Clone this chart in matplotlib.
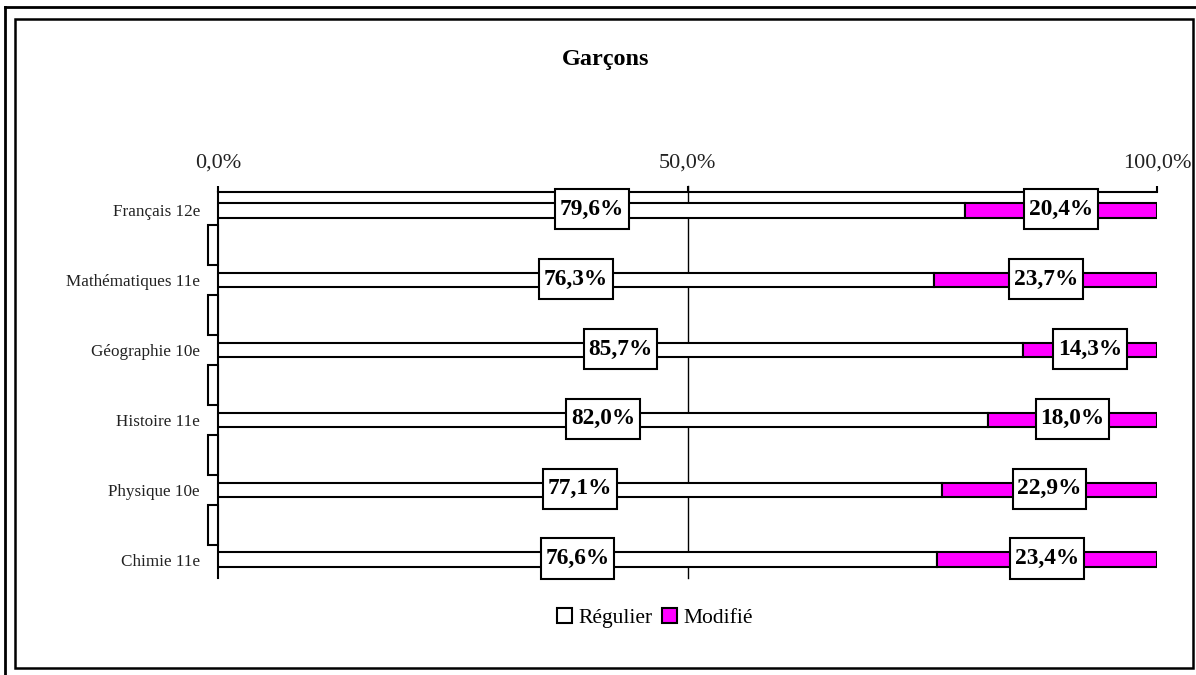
import matplotlib
matplotlib.use("Agg")
import matplotlib.pyplot as plt
from matplotlib.patches import Rectangle, Patch
from matplotlib.lines import Line2D
from matplotlib.path import Path
import matplotlib.transforms as mtransforms

categories = ["Français 12e", "Mathématiques 11e", "Géographie 10e",
              "Histoire 11e", "Physique 10e", "Chimie 11e"]
regulier = [79.6, 76.3, 85.7, 82.0, 77.1, 76.6]
modifie = [20.4, 23.7, 14.3, 18.0, 22.9, 23.4]
series_names = ["Régulier", "Modifié"]
xtick_vals = [0, 50, 100]
xtick_labels = ["0,0%", "50,0%", "100,0%"]
title = "Garçons"

plt.rcParams['font.family'] = ['Liberation Serif', 'DejaVu Serif']

W, H = 1196, 675
fig = plt.figure(figsize=(W / 100, H / 100), dpi=100)

def fx(px):
    return px / W

def fy(py):
    return 1 - py / H

# frames
fig.add_artist(Line2D([fx(5), 1.0], [fy(7), fy(7)], color='black', lw=2.0))
fig.add_artist(Line2D([fx(5), fx(5)], [fy(7), 0.0], color='black', lw=2.0))
fig.add_artist(Rectangle((fx(15), fy(668)), fx(1193) - fx(15), fy(19) - fy(668),
                         fill=False, edgecolor='black', lw=1.8))

ax = fig.add_axes([fx(218), fy(578), fx(1157) - fx(218), fy(192) - fy(578)])
ax.set_xlim(0, 100)
ax.set_ylim(5.26, -0.26)

ypos = list(range(len(categories)))
bh = 0.21
ax.barh(ypos, regulier, height=bh, color='white', edgecolor='black', lw=1.5, zorder=3)
ax.barh(ypos, modifie, left=regulier, height=bh, color='#FF00FF', edgecolor='black', lw=1.5, zorder=3)

ax.axvline(50, ymin=0, ymax=1.016, color='black', lw=1.0, zorder=2, clip_on=False)


def label_box(x0, y0, width, height, mutation_size):
    px = 0.2 * mutation_size
    py = 0.42 * mutation_size
    x0, y0 = x0 - px, y0 - py
    x1, y1 = x0 + width + 2 * px, y0 + height + 2 * py
    return Path([(x0, y0), (x1, y0), (x1, y1), (x0, y1), (x0, y0)], closed=True)


for i in ypos:
    r = regulier[i]
    m = modifie[i]
    for xc, v in ((r / 2, r), (r + m / 2, m)):
        ax.text(xc, i - 0.015, f"{v:.1f}%".replace('.', ','), ha='center', va='center',
                fontsize=16.8, fontweight='bold', zorder=5,
                bbox=dict(boxstyle=label_box, facecolor='white',
                          edgecolor='black', lw=1.5))

# y-axis tick rectangles between categories
trans = mtransforms.blended_transform_factory(ax.transAxes, ax.transData)
tw = 10 / 939
for i in range(len(categories) - 1):
    ax.add_patch(Rectangle((-tw, i + 0.5 - 0.285), tw, 0.57, transform=trans,
                           facecolor='white', edgecolor='black', lw=1.5,
                           clip_on=False, zorder=4))

ax.xaxis.tick_top()
ax.set_xticks(xtick_vals)
ax.set_xticklabels(xtick_labels, fontsize=16, color='#222222')
ax.tick_params(axis='x', direction='out', length=4, width=1.5, pad=10)
ax.set_yticks(ypos)
ax.set_yticklabels(categories, fontsize=12.3, color='#222222')
ax.tick_params(axis='y', length=0, pad=13)

for s in ('right', 'bottom'):
    ax.spines[s].set_visible(False)
for s in ('top', 'left'):
    ax.spines[s].set_linewidth(1.5)

fig.text(fx(606), fy(59), title, ha='center', va='center', fontsize=17.5, fontweight='bold')

handles = [Patch(facecolor='white', edgecolor='black', lw=1.5),
           Patch(facecolor='#FF00FF', edgecolor='black', lw=1.5)]
fig.legend(handles, series_names, loc='center', bbox_to_anchor=(fx(655), fy(618)),
           ncol=2, frameon=False, fontsize=15.5, handlelength=0.7, handleheight=0.7,
           handletextpad=0.3, columnspacing=0.4)

fig.savefig("out.png", dpi=100)
